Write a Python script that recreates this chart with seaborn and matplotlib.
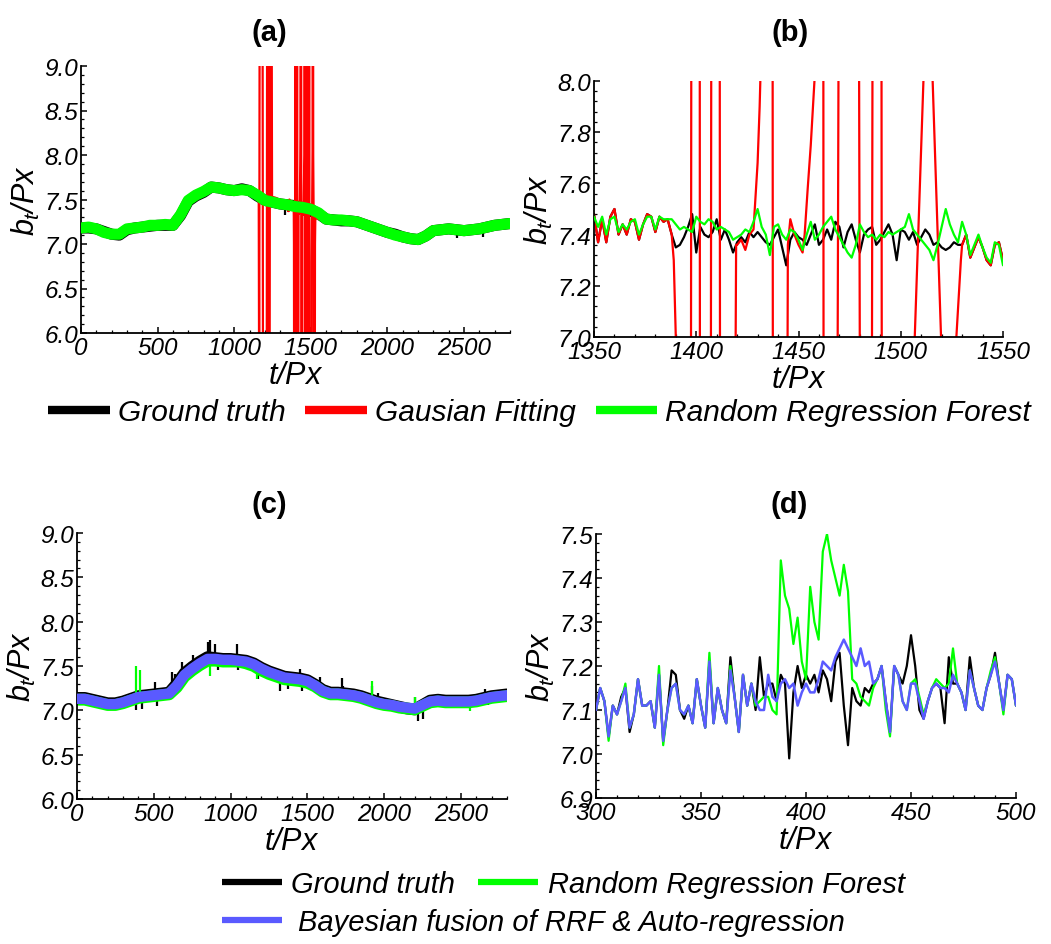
import numpy as np
import matplotlib
matplotlib.use("Agg")
import matplotlib.pyplot as plt
import seaborn as sns
from matplotlib.lines import Line2D
from matplotlib.ticker import MultipleLocator, FormatStrFormatter

# ---------------- panel (a): whole sequence, sampled every 50 px ----------------
t_a = np.arange(0, 2801, 50)
truth_a = [7.18, 7.18, 7.17, 7.14, 7.11, 7.10, 7.16, 7.18, 7.19, 7.20,
           7.21, 7.21, 7.21, 7.32, 7.48, 7.54, 7.58, 7.64, 7.63, 7.61,
           7.60, 7.62, 7.60, 7.54, 7.49, 7.47, 7.45, 7.44, 7.43, 7.41,
           7.39, 7.34, 7.28, 7.27, 7.26, 7.26, 7.25, 7.22, 7.19, 7.16,
           7.13, 7.11, 7.08, 7.06, 7.05, 7.09, 7.15, 7.16, 7.17, 7.16,
           7.15, 7.16, 7.17, 7.19, 7.21, 7.22,
           7.23]
rrf_a = [7.18, 7.19, 7.17, 7.13, 7.11, 7.11, 7.17, 7.18, 7.19, 7.21,
         7.21, 7.22, 7.21, 7.33, 7.49, 7.55, 7.59, 7.64, 7.63, 7.61,
         7.60, 7.61, 7.60, 7.55, 7.49, 7.47, 7.45, 7.44, 7.42, 7.41,
         7.39, 7.35, 7.28, 7.27, 7.27, 7.26, 7.25, 7.22, 7.19, 7.16,
         7.13, 7.10, 7.08, 7.06, 7.05, 7.09, 7.15, 7.16, 7.17, 7.16,
         7.15, 7.16, 7.17, 7.19, 7.21, 7.22,
         7.23]
# ground-truth outliers that stick out of the band
truth_a_spk_t = [1333, 1500, 2456, 2622]
truth_a_spk_v = [7.33, 7.30, 7.07, 7.08]
# Gaussian fitting outside the 1350-1550 window (5.0 / 10.0 = off scale)
gf_a_t = [0, 50, 100, 150, 200, 250, 300, 350, 400, 450,
          500, 550, 600, 650, 700, 750, 800, 850, 900, 950,
          1000, 1050, 1100, 1150, 1160, 1163, 1166, 1185, 1188, 1212,
          1215, 1221, 1224, 1231, 1234, 1244, 1247, 1270, 1300, 1330,
          1600, 1650, 1700, 1750, 1800, 1850, 1900, 1950, 2000, 2050,
          2100, 2150, 2200, 2250, 2300, 2350, 2400, 2450, 2500, 2550,
          2600, 2650, 2700, 2750, 2800]
gf_a_v = [7.18, 7.18, 7.17, 7.14, 7.11, 7.10, 7.16, 7.18, 7.19, 7.20,
          7.21, 7.21, 7.21, 7.32, 7.48, 7.54, 7.58, 7.64, 7.63, 7.61,
          7.60, 7.62, 7.60, 7.55, 7.52, 5.0, 10.0, 10.0, 5.0, 5.0,
          10.0, 10.0, 5.0, 5.0, 10.0, 10.0, 7.53, 7.52, 7.49, 7.46,
          7.28, 7.27, 7.26, 7.26, 7.25, 7.22, 7.19, 7.16, 7.13, 7.11,
          7.08, 7.06, 7.05, 7.09, 7.15, 7.16, 7.17, 7.16, 7.15, 7.16,
          7.17, 7.19, 7.21, 7.22, 7.23]

# ---------------- panel (b): window 1350-1550, every 2 px ----------------
t_b = np.arange(1350, 1551, 2)
truth_b = [7.48, 7.37, 7.46, 7.37, 7.47, 7.50, 7.40, 7.44, 7.40, 7.46,
           7.45, 7.38, 7.44, 7.48, 7.47, 7.41, 7.47, 7.45, 7.46, 7.40,
           7.35, 7.36, 7.39, 7.43, 7.48, 7.33, 7.43, 7.40, 7.39, 7.41,
           7.46, 7.38, 7.42, 7.38, 7.33, 7.37, 7.39, 7.37, 7.41, 7.39,
           7.41, 7.39, 7.37, 7.36, 7.39, 7.42, 7.35, 7.28, 7.38, 7.41,
           7.39, 7.38, 7.36, 7.40, 7.44, 7.36, 7.38, 7.42, 7.38, 7.45,
           7.43, 7.35, 7.41, 7.44, 7.38, 7.33, 7.40, 7.42, 7.43, 7.36,
           7.38, 7.41, 7.44, 7.40, 7.30, 7.42, 7.41, 7.38, 7.41, 7.36,
           7.39, 7.42, 7.40, 7.36, 7.37, 7.35, 7.34, 7.35, 7.37, 7.36,
           7.36, 7.40, 7.31, 7.35, 7.39, 7.35, 7.30, 7.28, 7.36, 7.37,
           7.30]
rrf_b = [7.47, 7.43, 7.47, 7.40, 7.46, 7.47, 7.41, 7.44, 7.42, 7.45,
         7.46, 7.40, 7.44, 7.47, 7.47, 7.42, 7.47, 7.46, 7.46, 7.46,
         7.44, 7.42, 7.43, 7.42, 7.41, 7.47, 7.45, 7.44, 7.46, 7.45,
         7.42, 7.43, 7.42, 7.41, 7.38, 7.39, 7.40, 7.42, 7.41, 7.45,
         7.50, 7.43, 7.40, 7.32, 7.43, 7.44, 7.40, 7.38, 7.42, 7.41,
         7.38, 7.34, 7.40, 7.45, 7.38, 7.40, 7.43, 7.45, 7.47, 7.42,
         7.39, 7.36, 7.33, 7.31, 7.36, 7.44, 7.41, 7.39, 7.40, 7.38,
         7.40, 7.39, 7.41, 7.40, 7.41, 7.42, 7.43, 7.48, 7.42, 7.40,
         7.38, 7.36, 7.34, 7.30, 7.36, 7.43, 7.50, 7.44, 7.40, 7.37,
         7.45, 7.40, 7.32, 7.36, 7.40, 7.35, 7.31, 7.29, 7.37, 7.36,
         7.28]
gf_b_t = [1350, 1352, 1354, 1356, 1358, 1360, 1362, 1364, 1366, 1368,
          1370, 1372, 1374, 1376, 1378, 1380, 1382, 1384, 1386, 1388,
          1389.0, 1390.0, 1391.0, 1397.2, 1397.8, 1401.6, 1401.9, 1406.9, 1407.6, 1411.3,
          1411.8, 1418.0, 1419.5, 1420, 1422, 1424, 1426, 1428, 1430, 1431,
          1432, 1433, 1437.2, 1437.6, 1443.9, 1444.8, 1446, 1448, 1450, 1452,
          1453, 1454.5, 1456, 1457.8, 1458.5, 1462.0, 1462.4, 1468.4, 1470.3, 1479.0,
          1480.6, 1485.5, 1486.6, 1490.4, 1490.9, 1505.5, 1506.0, 1511.3, 1512.0, 1515.0,
          1515.6, 1519.7, 1520.5, 1521.0, 1526.0, 1527.2, 1529.4, 1530, 1532, 1534,
          1536, 1538, 1540, 1542, 1544, 1546, 1548, 1550]
gf_b_v = [7.48, 7.37, 7.46, 7.37, 7.47, 7.50, 7.40, 7.44, 7.40, 7.46,
          7.45, 7.38, 7.44, 7.48, 7.47, 7.41, 7.47, 7.45, 7.46, 7.40,
          7.30, 7.00, 5.0, 5.0, 10.0, 10.0, 5.0, 5.0, 10.0, 10.0,
          5.0, 5.0, 7.36, 7.36, 7.38, 7.34, 7.40, 7.42, 7.68, 7.90,
          8.20, 10.0, 10.0, 5.0, 5.0, 7.36, 7.46, 7.40, 7.36, 7.33,
          7.40, 7.58, 7.75, 8.00, 10.0, 10.0, 5.0, 5.0, 10.0, 10.0,
          5.0, 5.0, 10.0, 10.0, 5.0, 5.0, 6.80, 8.05, 10.0, 10.0,
          8.00, 7.00, 6.80, 5.0, 5.0, 7.00, 7.30, 7.36, 7.40, 7.31,
          7.35, 7.39, 7.35, 7.30, 7.28, 7.36, 7.37, 7.30]

# ---------------- panel (c): whole sequence, sampled every 50 px ----------------
t_c = np.arange(0, 2801, 50)
truth_c = [7.14, 7.14, 7.12, 7.10, 7.08, 7.08, 7.10, 7.13, 7.16, 7.17,
           7.18, 7.19, 7.20, 7.30, 7.42, 7.49, 7.55, 7.60, 7.59, 7.58,
           7.58, 7.57, 7.56, 7.53, 7.48, 7.44, 7.41, 7.38, 7.37, 7.36,
           7.34, 7.29, 7.23, 7.20, 7.20, 7.19, 7.18, 7.16, 7.13, 7.10,
           7.08, 7.06, 7.04, 7.02, 7.01, 7.06, 7.11, 7.12, 7.11, 7.11,
           7.11, 7.11, 7.12, 7.14, 7.16, 7.17,
           7.18]
rrf_c = [7.12, 7.12, 7.10, 7.08, 7.06, 7.06, 7.08, 7.11, 7.14, 7.15,
         7.16, 7.17, 7.18, 7.26, 7.38, 7.45, 7.51, 7.56, 7.56, 7.55,
         7.55, 7.55, 7.53, 7.50, 7.45, 7.41, 7.38, 7.35, 7.34, 7.33,
         7.31, 7.27, 7.21, 7.18, 7.18, 7.17, 7.16, 7.14, 7.11, 7.08,
         7.06, 7.05, 7.03, 7.02, 7.01, 7.05, 7.09, 7.10, 7.09, 7.09,
         7.09, 7.09, 7.10, 7.12, 7.14, 7.15,
         7.16]
fusion_c = [7.13, 7.13, 7.11, 7.09, 7.07, 7.07, 7.09, 7.12, 7.15, 7.16,
            7.17, 7.18, 7.19, 7.28, 7.40, 7.47, 7.53, 7.58, 7.58, 7.57,
            7.57, 7.56, 7.55, 7.52, 7.47, 7.43, 7.40, 7.37, 7.36, 7.35,
            7.33, 7.28, 7.22, 7.19, 7.19, 7.18, 7.17, 7.15, 7.12, 7.09,
            7.07, 7.06, 7.04, 7.03, 7.02, 7.06, 7.10, 7.11, 7.10, 7.10,
            7.10, 7.10, 7.11, 7.13, 7.15, 7.16,
            7.17]
truth_c_spk_t = [387, 420, 507, 518, 616, 638, 681, 757, 851, 866,
                 898, 920, 1040, 1046, 1181, 1322, 1376, 1452, 1463, 1582,
                 1724, 1734, 1919, 1962, 2201, 2222, 2254, 2656, 2678]
truth_c_spk_v = [7.00, 7.02, 7.32, 7.05, 7.43, 7.41, 7.54, 7.62, 7.77, 7.79,
                 7.75, 7.45, 7.75, 7.45, 7.35, 7.22, 7.24, 7.47, 7.22, 7.38,
                 7.37, 7.28, 7.28, 7.20, 7.15, 6.88, 6.90, 7.24, 7.06]
rrf_c_spk_t = [387, 409, 866, 1170, 1919, 2201, 2560]
rrf_c_spk_v = [7.50, 7.45, 7.39, 7.35, 7.33, 7.15, 6.99]

# ---------------- panel (d): window 300-500, every 2 px ----------------
t_d = np.arange(300, 501, 2)
truth_d = [7.10, 7.15, 7.12, 7.04, 7.11, 7.09, 7.13, 7.15, 7.05, 7.09,
           7.17, 7.11, 7.11, 7.12, 7.06, 7.18, 7.03, 7.10, 7.19, 7.18,
           7.10, 7.08, 7.11, 7.07, 7.17, 7.11, 7.06, 7.21, 7.07, 7.15,
           7.10, 7.07, 7.22, 7.13, 7.05, 7.18, 7.11, 7.16, 7.10, 7.22,
           7.13, 7.16, 7.16, 7.12, 7.18, 7.16, 6.99, 7.14, 7.20, 7.15,
           7.18, 7.16, 7.18, 7.14, 7.19, 7.17, 7.12, 7.21, 7.23, 7.11,
           7.02, 7.15, 7.12, 7.11, 7.15, 7.14, 7.16, 7.17, 7.20, 7.12,
           7.05, 7.20, 7.18, 7.16, 7.20, 7.27, 7.20, 7.10, 7.08, 7.12,
           7.15, 7.16, 7.15, 7.07, 7.22, 7.16, 7.16, 7.14, 7.10, 7.22,
           7.15, 7.11, 7.10, 7.15, 7.18, 7.23, 7.16, 7.10, 7.18, 7.17,
           7.11]
rrf_d = [7.10, 7.15, 7.12, 7.03, 7.11, 7.09, 7.12, 7.16, 7.06, 7.09,
         7.17, 7.11, 7.11, 7.12, 7.06, 7.20, 7.02, 7.10, 7.15, 7.16,
         7.10, 7.09, 7.11, 7.07, 7.17, 7.11, 7.06, 7.23, 7.07, 7.15,
         7.10, 7.07, 7.20, 7.13, 7.05, 7.18, 7.11, 7.16, 7.11, 7.12,
         7.13, 7.13, 7.10, 7.09, 7.44, 7.36, 7.33, 7.25, 7.31, 7.21,
         7.17, 7.38, 7.30, 7.26, 7.46, 7.50, 7.44, 7.40, 7.36, 7.43,
         7.37, 7.17, 7.16, 7.13, 7.12, 7.11, 7.15, 7.17, 7.20, 7.10,
         7.04, 7.20, 7.18, 7.12, 7.10, 7.16, 7.17, 7.13, 7.09, 7.12,
         7.15, 7.17, 7.16, 7.15, 7.16, 7.24, 7.16, 7.14, 7.10, 7.19,
         7.15, 7.11, 7.10, 7.15, 7.19, 7.22, 7.16, 7.09, 7.18, 7.17,
         7.11]
fusion_d = [7.10, 7.15, 7.12, 7.04, 7.11, 7.09, 7.12, 7.15, 7.06, 7.09,
            7.17, 7.11, 7.11, 7.12, 7.06, 7.18, 7.03, 7.10, 7.15, 7.16,
            7.10, 7.09, 7.11, 7.07, 7.17, 7.11, 7.06, 7.21, 7.07, 7.15,
            7.10, 7.07, 7.19, 7.13, 7.05, 7.18, 7.11, 7.16, 7.12, 7.10,
            7.10, 7.18, 7.13, 7.12, 7.16, 7.17, 7.15, 7.16, 7.11, 7.14,
            7.16, 7.14, 7.14, 7.17, 7.21, 7.20, 7.19, 7.22, 7.24, 7.26,
            7.24, 7.22, 7.20, 7.24, 7.20, 7.21, 7.16, 7.17, 7.20, 7.12,
            7.05, 7.20, 7.18, 7.12, 7.10, 7.16, 7.16, 7.12, 7.08, 7.12,
            7.15, 7.16, 7.15, 7.15, 7.14, 7.18, 7.16, 7.14, 7.10, 7.19,
            7.15, 7.11, 7.10, 7.15, 7.18, 7.21, 7.16, 7.10, 7.18, 7.17,
            7.11]

legend_top = ["Ground truth", "Gausian Fitting", "Random Regression Forest"]
legend_bottom = ["Ground truth", "Random Regression Forest",
                 "Bayesian fusion of RRF & Auto-regression"]

BLACK, RED, GREEN, BLUE = "#000000", "#FF0000", "#00FF00", "#5A5AFF"

sns.set_theme(style="white")
plt.rcParams.update({
    "font.family": ["Liberation Sans", "DejaVu Sans"],
    "font.style": "italic",
    "mathtext.fontset": "custom",
    "mathtext.it": "Liberation Sans:italic",
    "mathtext.rm": "Liberation Sans:italic",
    "axes.linewidth": 1.3,
    "axes.edgecolor": "black",
    "text.color": "black",
    "axes.labelcolor": "black",
    "xtick.color": "black",
    "ytick.color": "black",
})

W, H = 1051, 945
fig = plt.figure(figsize=(W / 100, H / 100), dpi=100)
fig.patch.set_facecolor("white")


def add_axes(left, right, top, bottom):
    return fig.add_axes([left / W, 1 - bottom / H, (right - left) / W, (bottom - top) / H])


def line(ax, x, y, color, lw, z):
    sns.lineplot(x=np.asarray(x, float), y=np.asarray(y, float), ax=ax, color=color,
                 linewidth=lw, estimator=None, sort=False, legend=False, zorder=z)


def spikes(ax, ts, vs, t, v, color, z):
    base = np.interp(ts, t, v)
    ax.vlines(ts, base, vs, color=color, linewidth=1.6, zorder=z)


def style(ax, xlim, ylim, xmaj, xmin, ymaj, ymin, yfmt):
    ax.set_xlim(*xlim)
    ax.set_ylim(*ylim)
    ax.xaxis.set_major_locator(MultipleLocator(xmaj))
    ax.xaxis.set_minor_locator(MultipleLocator(xmin))
    ax.yaxis.set_major_locator(MultipleLocator(ymaj))
    ax.yaxis.set_minor_locator(MultipleLocator(ymin))
    ax.xaxis.set_major_formatter(FormatStrFormatter("%d"))
    ax.yaxis.set_major_formatter(FormatStrFormatter(yfmt))
    for s in ("top", "right"):
        ax.spines[s].set_visible(False)
    ax.tick_params(which="major", direction="in", length=4, width=1.1,
                   labelsize=17.5, pad=2, left=True, bottom=True, colors="black")
    ax.tick_params(which="minor", direction="in", length=2, width=0.9,
                   left=True, bottom=True)
    ax.set_facecolor("white")
    ax.set_xlabel(r"$t/Px$", fontsize=22, labelpad=1)
    ax.set_ylabel(r"$b_t/Px$", fontsize=22, labelpad=2)


# (a)
ax_a = add_axes(81, 510, 67, 334)
gf_a_all_t = np.concatenate([gf_a_t, gf_b_t])
gf_a_all_v = np.concatenate([gf_a_v, gf_b_v])
order = np.argsort(gf_a_all_t, kind="stable")
line(ax_a, t_a, truth_a, BLACK, 8, 1)
spikes(ax_a, truth_a_spk_t, truth_a_spk_v, t_a, truth_a, BLACK, 1)
line(ax_a, gf_a_all_t[order], gf_a_all_v[order], RED, 1.6, 2)
line(ax_a, t_a, rrf_a, GREEN, 8, 3)
style(ax_a, (0, 2800), (6, 9), 500, 100, 0.5, 0.1, "%.1f")

# (b)
ax_b = add_axes(594, 1003, 82, 338)
line(ax_b, t_b, truth_b, BLACK, 1.6, 1)
line(ax_b, gf_b_t, gf_b_v, RED, 1.6, 2)
line(ax_b, t_b, rrf_b, GREEN, 1.6, 3)
style(ax_b, (1350, 1550), (7, 8), 50, 10, 0.2, 0.04, "%.1f")

# (c)
ax_c = add_axes(77, 507, 534, 800)
line(ax_c, t_c, truth_c, BLACK, 8.5, 1)
spikes(ax_c, truth_c_spk_t, truth_c_spk_v, t_c, truth_c, BLACK, 1)
line(ax_c, t_c, rrf_c, GREEN, 8.5, 2)
spikes(ax_c, rrf_c_spk_t, rrf_c_spk_v, t_c, rrf_c, GREEN, 2)
line(ax_c, t_c, fusion_c, BLUE, 7.5, 3)
style(ax_c, (0, 2800), (6, 9), 500, 100, 0.5, 0.1, "%.1f")

# (d)
ax_d = add_axes(596, 1016, 535, 799)
line(ax_d, t_d, truth_d, BLACK, 1.6, 1)
line(ax_d, t_d, rrf_d, GREEN, 1.6, 2)
line(ax_d, t_d, fusion_d, BLUE, 1.8, 3)
style(ax_d, (300, 500), (6.9, 7.5), 50, 10, 0.1, 0.02, "%.1f")

for label, x, y in (("(a)", 269, 33), ("(b)", 790, 33), ("(c)", 269, 505), ("(d)", 789, 505)):
    fig.text(x / W, 1 - y / H, label, ha="center", va="center", fontsize=21,
             fontweight="bold", fontstyle="normal", color="black")

# legends
h_top = [Line2D([], [], color=c, lw=6, solid_capstyle="butt") for c in (BLACK, RED, GREEN)]
fig.legend(h_top, legend_top, loc="center", bbox_to_anchor=(539.5 / W, 1 - 413 / H),
           ncol=3, frameon=False, fontsize=21.5, handlelength=2.05, handletextpad=0.27,
           columnspacing=0.67, borderpad=0, borderaxespad=0)

h_row1 = [Line2D([], [], color=c, lw=4.5, solid_capstyle="butt") for c in (BLACK, GREEN)]
fig.legend(h_row1, legend_bottom[:2], loc="center left", bbox_to_anchor=(222 / W, 1 - 885 / H),
           ncol=2, frameon=False, fontsize=21, handlelength=2.04, handletextpad=0.34,
           columnspacing=0.78, borderpad=0, borderaxespad=0)
h_row2 = [Line2D([], [], color=BLUE, lw=4.5, solid_capstyle="butt")]
fig.legend(h_row2, legend_bottom[2:], loc="center left", bbox_to_anchor=(222 / W, 1 - 923 / H),
           ncol=1, frameon=False, fontsize=21, handlelength=2.04, handletextpad=0.57,
           borderpad=0, borderaxespad=0)

fig.savefig("out.png", dpi=100, facecolor="white")
